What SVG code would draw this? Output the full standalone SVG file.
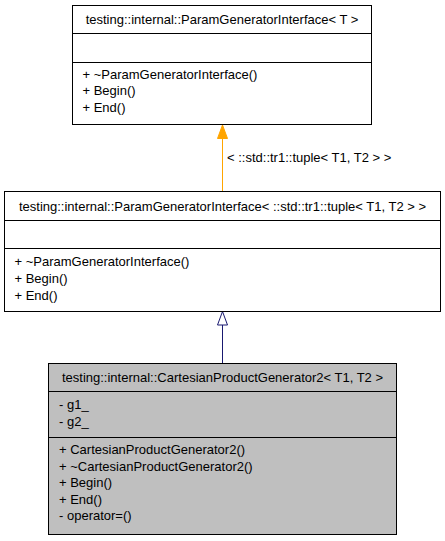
<svg xmlns="http://www.w3.org/2000/svg" width="445" height="541" viewBox="0 0 445 541">
<defs>
<style>
text{font-family:"Liberation Sans",Arial,sans-serif;font-size:13px;fill:#000}
.t{text-anchor:middle}
.box{fill:#fff;stroke:#000;stroke-width:1}
.gray{fill:#bfbfbf}
.sep{stroke:#000;stroke-width:1}
</style>
<marker id="orange" markerWidth="16" markerHeight="12" refX="14" refY="5.5" orient="auto" markerUnits="userSpaceOnUse">
<path d="M0.5,0.5 L14,5.5 L0.5,10.5 Z" fill="#ffa500" stroke="#ffa500"/>
</marker>
<marker id="hollow" markerWidth="16" markerHeight="12" refX="14" refY="5.5" orient="auto" markerUnits="userSpaceOnUse">
<path d="M0.5,0.5 L14,5.5 L0.5,10.5 Z" fill="#fff" stroke="#191970"/>
</marker>
</defs>
<g id="connectors">
<line x1="222.5" y1="191" x2="222.5" y2="125" stroke="#ffa500" stroke-width="1" marker-end="url(#orange)"/>
<text x="227" y="162">&lt; ::std::tr1::tuple&lt; T1, T2 &gt; &gt;</text>
<line x1="222.5" y1="363" x2="222.5" y2="311.5" stroke="#191970" stroke-width="1" marker-end="url(#hollow)"/>
</g>
<g id="node-top">
<rect class="box" x="72.5" y="5.5" width="299" height="119"/>
<line class="sep" x1="72.5" y1="33.5" x2="371.5" y2="33.5"/>
<line class="sep" x1="72.5" y1="62.5" x2="371.5" y2="62.5"/>
<text class="t" x="222" y="24">testing::internal::ParamGeneratorInterface&lt; T &gt;</text>
<text x="82.5" y="78.5">+ ~ParamGeneratorInterface()</text>
<text x="82.5" y="95">+ Begin()</text>
<text x="82.5" y="111.5">+ End()</text>
</g>
<g id="node-middle">
<rect class="box" x="4.5" y="191.5" width="436" height="120"/>
<line class="sep" x1="4.5" y1="220.5" x2="440.5" y2="220.5"/>
<line class="sep" x1="4.5" y1="248.5" x2="440.5" y2="248.5"/>
<text class="t" x="222.5" y="210.5">testing::internal::ParamGeneratorInterface&lt; ::std::tr1::tuple&lt; T1, T2 &gt; &gt;</text>
<text x="14.5" y="266">+ ~ParamGeneratorInterface()</text>
<text x="14.5" y="283">+ Begin()</text>
<text x="14.5" y="300">+ End()</text>
</g>
<g id="node-bottom">
<rect class="box gray" x="48.5" y="363.5" width="348" height="171"/>
<line class="sep" x1="48.5" y1="391.5" x2="396.5" y2="391.5"/>
<line class="sep" x1="48.5" y1="437.5" x2="396.5" y2="437.5"/>
<text class="t" x="222.5" y="382">testing::internal::CartesianProductGenerator2&lt; T1, T2 &gt;</text>
<text x="59" y="409">- g1_</text>
<text x="59" y="425.5">- g2_</text>
<text x="59" y="454">+ CartesianProductGenerator2()</text>
<text x="59" y="470.5">+ ~CartesianProductGenerator2()</text>
<text x="59" y="487">+ Begin()</text>
<text x="59" y="503.5">+ End()</text>
<text x="59" y="520">- operator=()</text>
</g>
</svg>
